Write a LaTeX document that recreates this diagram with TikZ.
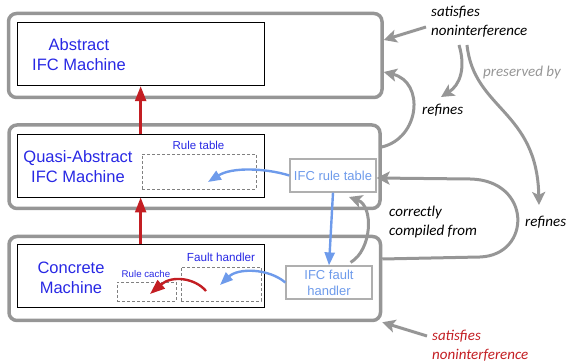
\documentclass[tikz,border=0pt]{standalone}
\usepackage{fontspec}
\setmainfont{Liberation Sans}
\newfontfamily\notefont{Carlito}[UprightFont=*-Italic]
\usetikzlibrary{arrows.meta}
\definecolor{levelgray}{RGB}{150, 150, 150}
\definecolor{ifcgray}{RGB}{175, 175, 175}
\definecolor{machblue}{RGB}{40, 40, 228}
\definecolor{ifcblue}{RGB}{110, 155, 235}
\definecolor{flowred}{RGB}{195, 30, 35}

\begin{document}
\begin{tikzpicture}[
    x=1pt, y=-1pt,
    level/.style={rectangle, draw=levelgray, line width=3.5pt, rounded corners=8pt, inner sep=0pt},
    machine/.style={rectangle, draw=black, line width=0.9pt, inner sep=0pt, minimum width=246.7pt, minimum height=63pt},
    slot/.style={rectangle, draw=gray, densely dashed, line width=0.5pt, inner sep=0pt},
    ifcbox/.style={rectangle, draw=ifcgray, line width=1.2pt, fill=white, inner sep=0pt, align=center, text=ifcblue, font=\fontsize{13}{16}\selectfont},
    machtext/.style={align=center, text=machblue, font=\fontsize{16.5}{20}\selectfont},
    slottext/.style={text=machblue, inner sep=0pt},
    note/.style={align=left, inner sep=0pt, font=\notefont\fontsize{15}{19}\selectfont},
    redarrow/.style={-{Triangle[length=15pt,width=11pt]}, line width=2.4pt, flowred},
    bluearrow/.style={-{Triangle[length=13pt,width=10pt]}, line width=2.4pt, ifcblue},
    grayarrow/.style={-{Stealth[length=13pt,width=13pt,inset=3pt]}, line width=3pt, levelgray}
]
    \useasboundingbox (0,0) rectangle (568,363);

    % three levels
    \node[level, minimum width=373.5pt, minimum height=84pt] (abslevel) at (195.25,55.5) {};
    \node[level, minimum width=371pt, minimum height=83.5pt] (quasilevel) at (194.5,166.75) {};
    \node[level, minimum width=371.5pt, minimum height=84pt] (conclevel) at (194.75,278.5) {};

    \node[machine] (abs) at (140.65,54.2) {};
    \node[machine] (quasi) at (140.65,165.5) {};
    \node[machine, minimum height=62.5pt] (conc) at (140.65,276.2) {};

    \node[machtext] (abstext) at (79,55) {Abstract\\IFC Machine};
    \node[machtext] (quasitext) at (78,167) {Quasi-Abstract\\IFC Machine};
    \node[machtext] (conctext) at (71,278) {Concrete\\Machine};

    % slots inside the machines
    \node[slot, minimum width=114pt, minimum height=35pt] (ruletable) at (199,171.5) {};
    \node[slottext, font=\fontsize{11.5}{14}\selectfont] (ruletablelabel) at (198.5,145) {Rule table};
    \node[slot, minimum width=59pt, minimum height=19pt] (rulecache) at (146.5,291.5) {};
    \node[slottext, font=\fontsize{9.7}{12}\selectfont] (rulecachelabel) at (146,274) {Rule cache};
    \node[slot, minimum width=80pt, minimum height=34pt] (faulthandler) at (221,284) {};
    \node[slottext, font=\fontsize{11.7}{14}\selectfont] (faultlabel) at (221,257) {Fault handler};

    \node[ifcbox, minimum width=86pt, minimum height=33pt] (ifcrule) at (333,175.5) {IFC rule table};
    \node[ifcbox, minimum width=86pt, minimum height=33pt] (ifcfault) at (329,282.5) {IFC fault\\handler};

    \coordinate (ruletip) at (208,182);
    \coordinate (faulttip) at (220,285);
    \coordinate (cachetip) at (150,294);
    \coordinate (cachestart) at (206,291);

    % arrows inside
    \draw[redarrow] (quasi.north) -- (abs.south);
    \draw[redarrow] (conc.north) -- (quasi.south);
    \draw[bluearrow] (ifcrule.west) .. controls (265,168) and (232,167) .. (ruletip);
    \draw[bluearrow] (ifcrule.south) -- (ifcfault.north);
    \draw[bluearrow] (ifcfault.west) .. controls (268,268) and (238,268) .. (faulttip);
    \draw[redarrow] (cachestart) .. controls (195,278) and (172,275) .. (cachetip);

    % notes on the right
    \node[note, anchor=west] (satisfiestop) at (431,22) {satisfies\\noninterference};
    \node[note, anchor=west, text=levelgray] (preserved) at (483,73) {preserved by};
    \node[note, anchor=west] (refinestop) at (422,110) {refines};
    \node[note, anchor=west] (refineslow) at (525,222) {refines};
    \node[note, anchor=west] (compiled) at (389,222) {correctly\\compiled from};
    \node[note, anchor=west, text=flowred] (satisfieslow) at (432,346) {satisfies\\noninterference};

    \coordinate (splitleft) at (459,45);
    \coordinate (splitright) at (467,45);

    \draw[grayarrow] (426,27) -- (abslevel.east |- 0,40);
    \draw[grayarrow] (splitleft) .. controls (466,68) and (460,85) .. (441,97);
    \draw[grayarrow] (splitright) .. controls (474,110) and (537,110) .. (539,205);
    \draw[grayarrow] (quasilevel.east |- 0,147) .. controls (420,138) and (425,82) .. (abslevel.east |- 0,72);
    \draw[grayarrow] (conclevel.east |- 0,259) -- (480,257) .. controls (532,255) and (532,180) .. (470,179) -- (ifcrule.east |- 0,178);
    \draw[grayarrow] (ifcfault.north east) ++(-22,-3) .. controls (372,250) and (374,206) .. (349,197);
    \draw[grayarrow] (427,336) -- (conclevel.south east);
\end{tikzpicture}
\end{document}
